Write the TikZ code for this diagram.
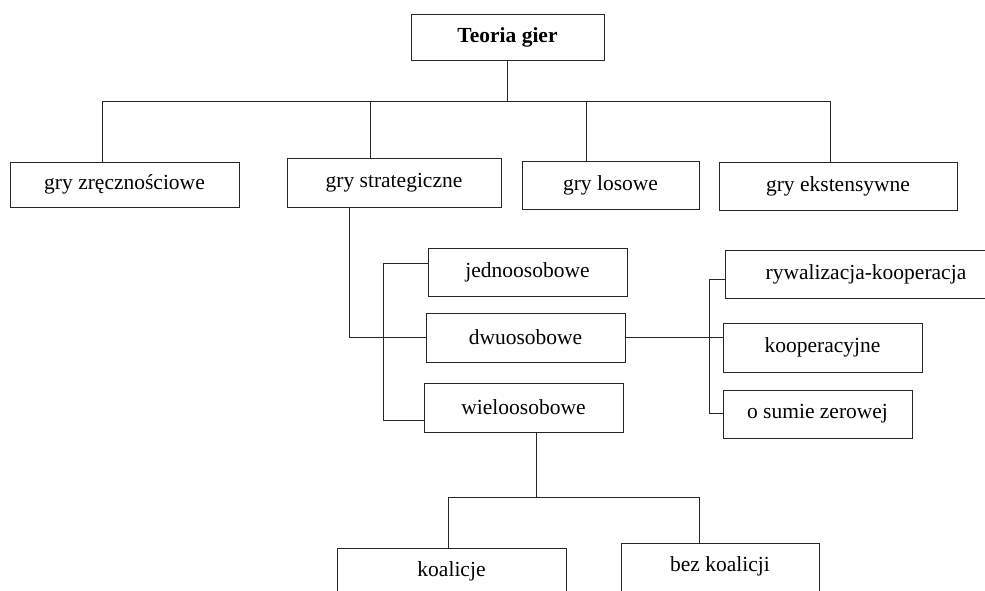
\documentclass[tikz,border=0pt]{standalone}
\usepackage{fontspec}
\setmainfont{Liberation Serif}
\begin{document}
\begin{tikzpicture}[x=1pt,y=-1pt,line width=0.9pt,
    box/.style={draw=black!85,rectangle,inner sep=2pt,font=\fontsize{21.5}{25}\selectfont},
    title/.style={box,font=\fontsize{21.5}{25}\selectfont\bfseries},
    conn/.style={draw=black!85}]
  \clip (0,0) rectangle (985,590);
  % root and first level
  \node[title,minimum width=193pt,minimum height=46pt] (teoria) at (507.5,37) {Teoria gier};
  \node[box,minimum width=229pt,minimum height=45pt] (zrecz) at (124.5,184.5) {gry zręcznościowe};
  \node[box,minimum width=214pt,minimum height=49pt] (strat) at (394,182.5) {gry strategiczne};
  \node[box,minimum width=177pt,minimum height=48pt] (losowe) at (610.5,185) {gry losowe};
  \node[box,minimum width=238pt,minimum height=48pt] (ekst) at (838,186) {gry ekstensywne};
  % number of players
  \node[box,minimum width=199pt,minimum height=48pt] (jedno) at (527.5,272) {jednoosobowe};
  \node[box,minimum width=199pt,minimum height=49pt] (dwu) at (525.5,337.5) {dwuosobowe};
  \node[box,minimum width=199pt,minimum height=49pt] (wielo) at (523.5,407.5) {wieloosobowe};
  % two-person games
  \node[box,minimum width=282pt,minimum height=48pt] (rywal) at (866,274) {rywalizacja-kooperacja};
  \node[box,minimum width=199pt,minimum height=49pt] (koop) at (822.5,347.5) {kooperacyjne};
  \node[box,minimum width=189pt,minimum height=48pt] (zero) at (817.5,414) {o sumie zerowej};
  % many-person games
  \node[box,minimum width=229pt,minimum height=46pt] (koal) at (451.5,571) {koalicje};
  \node[box,minimum width=198pt,minimum height=60pt,text depth=18.5pt] (bezkoal) at (720,573) {bez koalicji};

  \coordinate (b1) at (102,101);
  \coordinate (b2) at (370,101);
  \coordinate (b3) at (586,101);
  \coordinate (b4) at (830,101);
  \coordinate (s1) at (349,207);
  \coordinate (k1) at (383,263);
  \coordinate (k2) at (383,420);
  \coordinate (r1) at (709,279);
  \coordinate (r2) at (709,413);
  \coordinate (w0) at (536,497);
  \coordinate (c1) at (448,497);
  \coordinate (c2) at (699,497);

  \draw[conn] (teoria.south) -- (teoria.south |- b1);
  \draw[conn] (b1) -- (b4);
  \draw[conn] (b1) -- (b1 |- zrecz.north);
  \draw[conn] (b2) -- (b2 |- strat.north);
  \draw[conn] (b3) -- (b3 |- losowe.north);
  \draw[conn] (b4) -- (b4 |- ekst.north);
  \draw[conn] (s1) |- (dwu.west);
  \draw[conn] (k1 -| jedno.west) -- (k1) -- (k2) -- (k2 -| wielo.west);
  \draw[conn] (dwu.east) -- (dwu.east -| koop.west);
  \draw[conn] (r1 -| rywal.west) -- (r1) -- (r2) -- (r2 -| zero.west);
  \draw[conn] (w0 |- wielo.south) -- (w0);
  \draw[conn] (c1) -- (c2);
  \draw[conn] (c1) -- (c1 |- koal.north);
  \draw[conn] (c2) -- (c2 |- bezkoal.north);
\end{tikzpicture}
\end{document}
